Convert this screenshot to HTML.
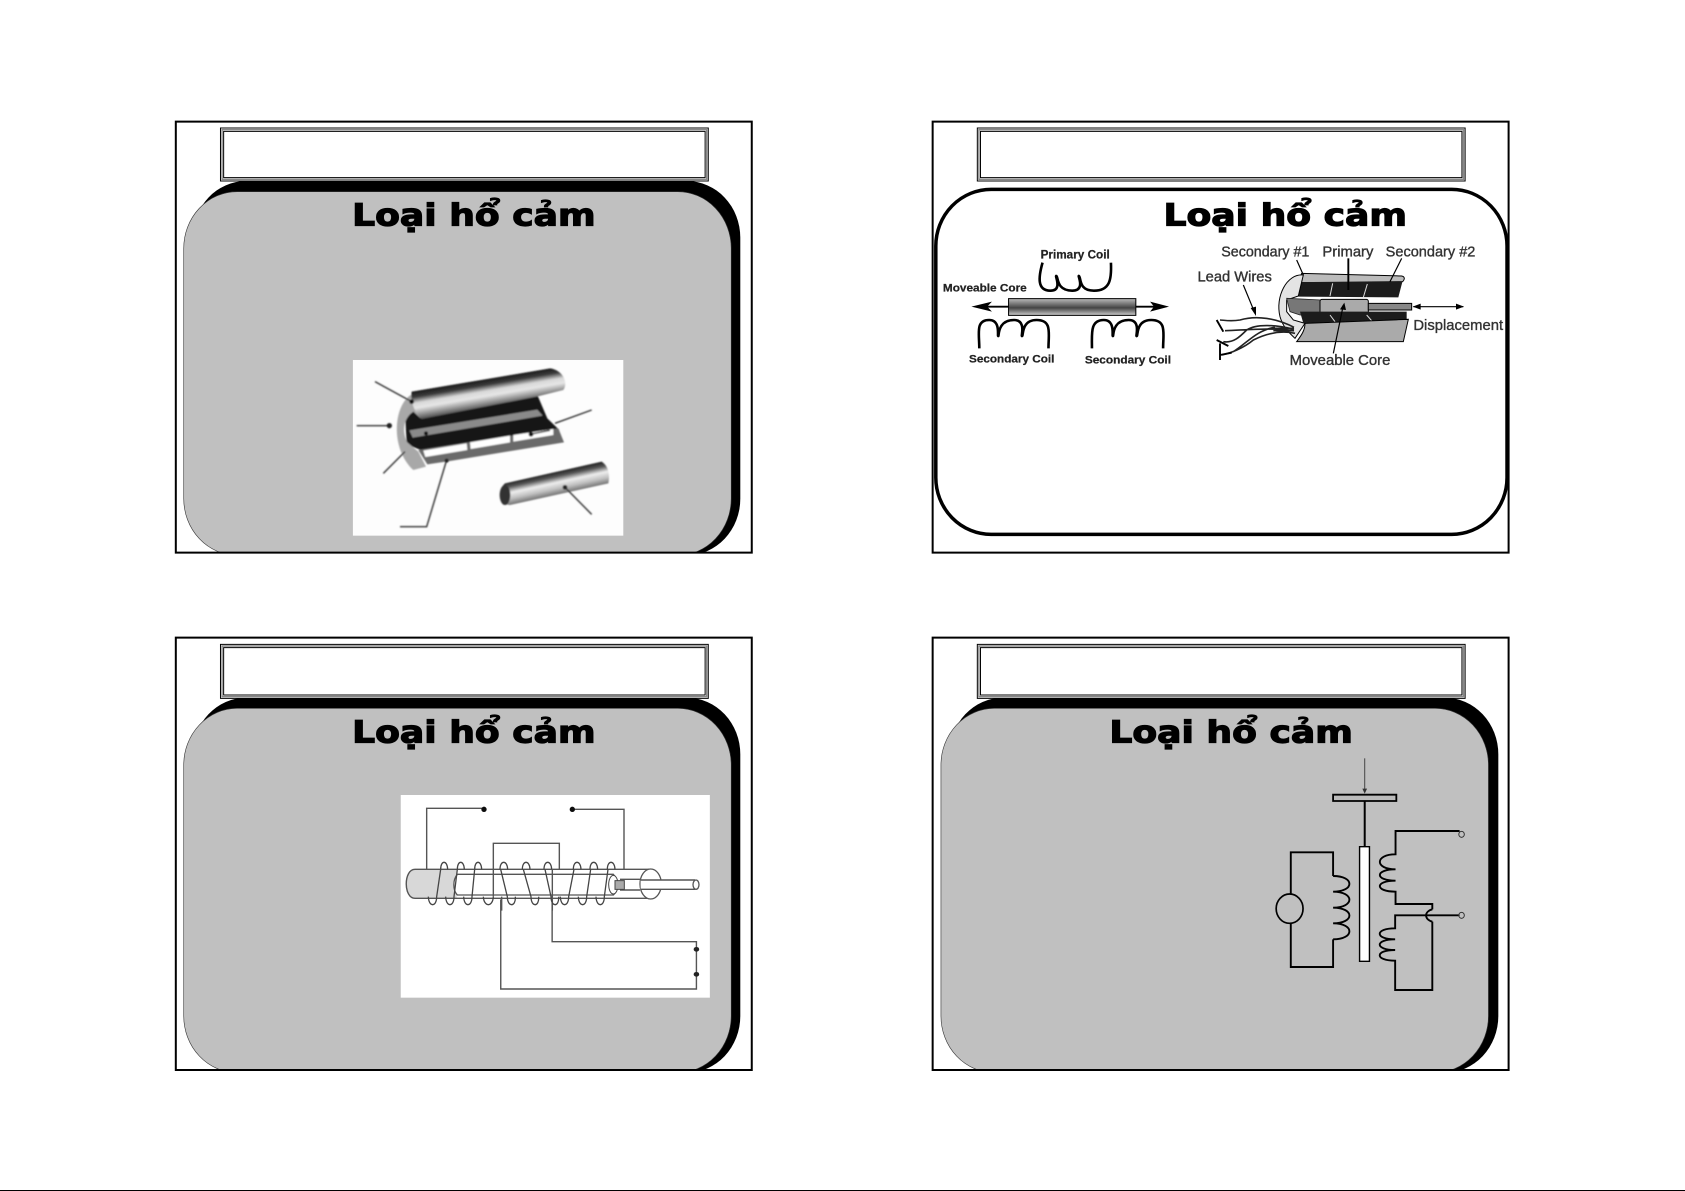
<!DOCTYPE html>
<html lang="vi"><head><meta charset="utf-8"><title>Loại hổ cảm</title>
<style>
html,body{margin:0;padding:0;background:#fff;width:1685px;height:1191px;overflow:hidden}
svg{display:block}
svg *{vector-effect:non-scaling-stroke}
.t{font-family:"DejaVu Sans","Liberation Sans",sans-serif;font-weight:bold;font-size:92px;fill:#000;stroke:#000;stroke-width:1.3px}
.b{font-family:"Liberation Sans",sans-serif;font-weight:bold;fill:#222;stroke:#222;stroke-width:.25px}
.n{font-family:"Liberation Sans",sans-serif;fill:#333;stroke:#333;stroke-width:.4px;font-size:44px}
.l{fill:none;stroke:#000;stroke-width:2px}
.g{fill:none;stroke:#555;stroke-width:1.4px}
.h{fill:none;stroke:#444;stroke-width:1.3px}
.k{fill:none;stroke:#000;stroke-width:1.9px}
.e{stroke:#333;stroke-width:.6px}
</style></head><body>
<svg width="1685" height="1191" viewBox="0 0 1685 1191" xmlns="http://www.w3.org/2000/svg">
<defs>
<linearGradient id="shell" gradientUnits="userSpaceOnUse" x1="400" y1="74" x2="414" y2="156"><stop offset="0" stop-color="#1c1c1c"/><stop offset=".2" stop-color="#3a3a3a"/><stop offset=".42" stop-color="#d8d8d8"/><stop offset=".6" stop-color="#e6e6e6"/><stop offset=".8" stop-color="#a0a0a0"/><stop offset="1" stop-color="#555"/></linearGradient>
<linearGradient id="rod" gradientUnits="userSpaceOnUse" x1="620" y1="350" x2="635" y2="419"><stop offset="0" stop-color="#222"/><stop offset=".2" stop-color="#555"/><stop offset=".45" stop-color="#eee"/><stop offset=".7" stop-color="#c0c0c0"/><stop offset="1" stop-color="#666"/></linearGradient>
<linearGradient id="core" x1="0" y1="0" x2="0" y2="1"><stop offset="0" stop-color="#bbb"/><stop offset=".55" stop-color="#444"/><stop offset="1" stop-color="#ccc"/></linearGradient>
<filter id="soft" x="-5%" y="-5%" width="110%" height="110%"><feGaussianBlur stdDeviation="2.2"/></filter>
<filter id="soft2" x="-5%" y="-5%" width="110%" height="110%"><feGaussianBlur stdDeviation=".8"/></filter>
<clipPath id="c1"><rect x="40" y="65" width="1457" height="1293"/></clipPath>
<clipPath id="c3"><rect x="40" y="53" width="1457" height="1297"/></clipPath>
<clipPath id="c4"><rect x="32" y="53" width="1457" height="1297"/></clipPath>
</defs>

<!-- Slide 1 -->
<g transform="translate(160 100) scale(.3953 .33333)">
<rect x="40" y="65" width="1457" height="1293" fill="#fff"/>
<g clip-path="url(#c1)">
<rect x="83" y="243" width="1385" height="1123" rx="135" ry="170" fill="#000"/>
<rect class="e" x="60" y="275" width="1385" height="1091" rx="135" ry="170" fill="#c0c0c0"/>
</g>
<rect x="40" y="65" width="1457" height="1293" class="l"/>
<rect x="153" y="84" width="1234" height="159" fill="#fff" stroke="#000" stroke-width="1"/>
<rect x="157" y="89" width="1226" height="149" fill="none" stroke="#888" stroke-width="1.4"/>
<rect x="161" y="94" width="1218" height="139" fill="none" stroke="#000" stroke-width="1"/>
<text class="t" x="486" y="377" textLength="616" lengthAdjust="spacingAndGlyphs">Loại hổ cảm</text>
<rect x="488" y="780" width="684" height="527" fill="#fdfdfd"/>
</g>
<g transform="translate(350 355) scale(.33333)">
<g filter="url(#soft)">
<path d="M165 172 L560 115 L592 190 L628 225 L230 292 L170 268Z" fill="#141414"/>
<path d="M178 226 L562 164 L578 182 L188 248Z" fill="#8a8a8a"/>
<path d="M185 118 C130 150 120 280 190 345 L228 335 L205 290 L172 262 C155 230 160 190 190 170 L212 190Z" fill="#a8a8a8"/>
<path d="M185 110 L600 40 C640 45 655 85 640 105 L560 125 L215 192 C195 175 180 140 185 110Z" fill="url(#shell)"/>
<path d="M205 285 L625 220 L642 262 L300 318 L232 328Z" fill="#6a6a6a"/>
<path d="M220 287 L350 265 L352 285 L226 306Z M360 262 L480 242 L480 262 L362 282Z M490 240 L610 222 L610 240 L490 260Z" fill="#fff"/>
<path d="M465 385 L755 320 C770 330 782 350 775 385 L480 450 C450 450 445 400 465 385Z" fill="url(#rod)"/>
<ellipse cx="465" cy="420" rx="16" ry="30" fill="#333"/>
<path d="M75 80 L185 140 M20 212 H115 M100 355 L165 290 M725 165 L615 205 M540 238 L600 226 M150 515 H230 L290 315 M645 397 L725 478" stroke="#333" stroke-width="1.4" fill="none"/>
<circle cx="185" cy="140" r="7" fill="#111"/><circle cx="118" cy="212" r="8" fill="#222"/><circle cx="228" cy="235" r="6" fill="#111"/><circle cx="543" cy="238" r="7" fill="#111"/><circle cx="645" cy="397" r="7" fill="#222"/><circle cx="290" cy="317" r="6" fill="#222"/>
</g>
</g>

<!-- Slide 2 -->
<g transform="translate(920 100) scale(.3953 .33333)">
<rect x="32" y="65" width="1457" height="1293" fill="#fff"/>
<rect x="40" y="268" width="1445" height="1035" rx="140" ry="170" fill="#fff" stroke="#000" stroke-width="3.5"/>
<rect x="32" y="65" width="1457" height="1293" class="l"/>
<rect x="145" y="84" width="1234" height="159" fill="#fff" stroke="#000" stroke-width="1"/>
<rect x="149" y="89" width="1226" height="149" fill="none" stroke="#888" stroke-width="1.4"/>
<rect x="153" y="94" width="1218" height="139" fill="none" stroke="#000" stroke-width="1"/>
<text class="t" x="616" y="377" textLength="616" lengthAdjust="spacingAndGlyphs">Loại hổ cảm</text>
<text class="b" x="305" y="475" font-size="37" textLength="175" lengthAdjust="spacingAndGlyphs">Primary Coil</text>
<text class="b" x="58" y="575" font-size="33" textLength="212" lengthAdjust="spacingAndGlyphs">Moveable Core</text>
<text class="b" x="124" y="788" font-size="33" textLength="216" lengthAdjust="spacingAndGlyphs">Secondary Coil</text>
<text class="b" x="417" y="790" font-size="33" textLength="218" lengthAdjust="spacingAndGlyphs">Secondary Coil</text>
<path class="k" style="stroke-width:2.6px" d="M310 488 C300 530 295 572 330 572 C362 572 340 525 345 528 C350 532 345 572 385 572 C420 572 398 525 402 528 C408 532 400 572 440 572 C480 572 485 540 483 488"/>
<path class="k" style="stroke-width:2.6px" d="M150 745 C150 700 140 660 175 660 C205 660 195 710 198 708 C200 710 195 660 238 660 C270 660 255 710 258 708 C262 710 255 660 295 660 C335 660 325 700 325 745"/>
<path class="k" style="stroke-width:2.6px" d="M435 745 C435 700 430 660 465 660 C495 660 485 710 488 708 C490 710 485 660 528 660 C560 660 545 710 548 708 C552 710 545 660 585 660 C625 660 615 700 615 745"/>
<rect x="224" y="596" width="322" height="50" fill="url(#core)" stroke="#000" stroke-width="1"/>
<path class="k" d="M155 620 H224 M546 620 H610"/>
<path d="M130 620 L182 605 L170 620 L182 635Z M630 620 L582 605 L592 620 L582 635Z" fill="#000"/>
<text class="n" x="762" y="470" textLength="223" lengthAdjust="spacingAndGlyphs">Secondary #1</text>
<text class="n" x="1018" y="470" textLength="129" lengthAdjust="spacingAndGlyphs">Primary</text>
<text class="n" x="1178" y="470" textLength="227" lengthAdjust="spacingAndGlyphs">Secondary #2</text>
<text class="n" x="702" y="545" textLength="188" lengthAdjust="spacingAndGlyphs">Lead Wires</text>
<text class="n" x="1248" y="690" textLength="227" lengthAdjust="spacingAndGlyphs">Displacement</text>
<text class="n" x="935" y="795" textLength="255" lengthAdjust="spacingAndGlyphs">Moveable Core</text>
</g>
<g transform="translate(1190 240) scale(.33333)">
<g filter="url(#soft2)">
<path d="M335 100 L635 108 C645 110 645 118 638 125 L325 128Z" fill="#bbb" stroke="#000" stroke-width="1"/>
<path d="M325 126 H637 L625 172 L325 170Z" fill="#1e1e1e"/>
<path d="M428 130 L420 168 M532 132 L520 172" stroke="#ddd" stroke-width="1" fill="none"/>
<path d="M340 105 C290 100 255 170 270 230 C280 265 300 280 315 295 L345 250 L310 240 L290 215 L290 180 L325 168Z" fill="#e4e4e4" stroke="#000" stroke-width="1"/>
<path d="M290 175 L392 180 V225 H330 L300 215Z" fill="#777" stroke="#222" stroke-width=".8"/>
<rect x="390" y="178" width="145" height="47" rx="6" ry="6" fill="#aaa" stroke="#000" stroke-width="1"/>
<rect x="535" y="190" width="130" height="20" fill="#888" stroke="#000" stroke-width="1"/>
<path d="M330 215 H650 V238 L340 250Z" fill="#1e1e1e"/>
<path d="M420 225 L435 245 M530 225 L545 242" stroke="#ddd" stroke-width="1" fill="none"/>
<path d="M345 250 L655 238 L640 305 L320 305 C335 285 345 270 345 250Z" fill="#aaa" stroke="#000" stroke-width="1"/>
</g>
<path class="k" style="stroke-width:1.2px" d="M320 60 L340 105 M635 55 L600 125 M160 135 L195 220 M460 195 L430 340 M670 200 H820"/>
<path class="k" d="M475 55 V150"/>
<path d="M668 200 L692 191 V209Z M822 200 L798 191 V209Z M198 228 L182 204 L198 200Z M463 188 L450 208 L468 210Z" fill="#000"/>
<path class="k" style="stroke-width:1.6px;stroke:#222" d="M312 262 C260 235 200 225 150 240 C120 245 100 240 90 240 M312 268 C260 255 200 250 170 270 C150 290 130 310 100 305 M312 272 C240 262 170 270 105 272 M315 280 C270 270 230 280 190 300 C160 325 120 340 95 345 M255 262 C200 270 170 310 130 335 M250 265 H312 M250 272 H312"/>
<path class="k" d="M90 310 V360 M90 345 L125 338 M80 300 L115 318 M80 240 L100 275"/>
</g>

<!-- Slide 3 -->
<g transform="translate(160 620) scale(.3953 .33333)">
<rect x="40" y="53" width="1457" height="1297" fill="#fff"/>
<g clip-path="url(#c3)">
<rect x="83" y="233" width="1385" height="1125" rx="135" ry="170" fill="#000"/>
<rect class="e" x="60" y="265" width="1385" height="1093" rx="135" ry="170" fill="#c0c0c0"/>
</g>
<rect x="40" y="53" width="1457" height="1297" class="l"/>
<rect x="153" y="73" width="1234" height="162" fill="#fff" stroke="#000" stroke-width="1"/>
<rect x="157" y="78" width="1226" height="152" fill="none" stroke="#888" stroke-width="1.4"/>
<rect x="161" y="83" width="1218" height="142" fill="none" stroke="#000" stroke-width="1"/>
<text class="t" x="486" y="367" textLength="616" lengthAdjust="spacingAndGlyphs">Loại hổ cảm</text>
<rect x="609" y="525" width="782" height="608" fill="#fff"/>
<path class="g" d="M862 838 V1107 H1357 V965 H992 V830"/>
<circle cx="1357" cy="988" r="7" fill="#222"/><circle cx="1357" cy="1063" r="7" fill="#222"/>
</g>
<g transform="translate(400 780) scale(.33333)">
<g filter="url(#soft2)">
<path d="M45 268 H170 V355 H45 C10 355 10 268 45 268Z" fill="#d8d8d8"/>
<path class="g" d="M45 268 H750 M45 355 H750 M45 268 C10 268 10 355 45 355"/>
<path d="M172 283 H640 C655 300 655 330 640 345 H172 C158 330 158 300 172 283Z" fill="#fff" stroke="#555" stroke-width="1.3"/>
<ellipse cx="752" cy="312" rx="32" ry="45" fill="#fff" stroke="#555" stroke-width="1.3"/>
<path class="g" d="M660 298 H720 M660 330 H720"/>
<path d="M722 300 H885 V328 H722Z" fill="#fff"/>
<path class="g" d="M722 300 H885 M722 328 H885"/>
<ellipse cx="888" cy="314" rx="9" ry="14" fill="#fff" stroke="#555" stroke-width="1.3"/>
<ellipse cx="640" cy="314" rx="14" ry="28" fill="#fff" stroke="#444" stroke-width="1"/>
<rect x="645" y="302" width="28" height="26" fill="#aaa" stroke="#444" stroke-width="1"/>
<path class="g" d="M80 268 V85 H250 M517 88 H672 V268 M280 240 V190 H478 V268 M280 240 V350 M305 350 V392 M457 268 V392"/>
<circle cx="252" cy="88" r="8" fill="#111"/><circle cx="517" cy="88" r="8" fill="#111"/>
<path class="h" d="M122 268 C122 240 142 240 143 268 M122 268 L110 350 C110 382 86 382 85 350
M172 268 C172 240 192 240 193 268 M172 268 L162 350 C162 382 138 382 137 350
M224 268 C224 240 244 240 245 268 M224 268 L216 350 C216 382 192 382 191 350
M280 350 C278 382 252 382 250 350
M300 268 C300 240 322 240 323 268 M302 268 L322 350 C322 382 348 382 346 350
M367 268 C367 240 389 240 390 268 M370 268 L393 350 C393 382 418 382 416 350
M432 268 C432 240 454 240 455 268 M435 268 L453 350 C453 382 478 382 476 350
M520 268 C520 240 542 240 543 268 M522 268 L506 350 C506 382 482 382 481 350
M570 268 C570 240 592 240 593 268 M572 268 L560 350 C560 382 536 382 535 350
M622 268 C622 240 644 240 645 268 M624 268 L613 350 C613 382 589 382 588 350"/>
</g>
</g>

<!-- Slide 4 -->
<g transform="translate(920 620) scale(.3953 .33333)">
<rect x="32" y="53" width="1457" height="1297" fill="#fff"/>
<g clip-path="url(#c4)">
<rect x="75" y="233" width="1388" height="1125" rx="135" ry="170" fill="#000"/>
<rect class="e" x="53" y="265" width="1385" height="1093" rx="135" ry="170" fill="#c0c0c0"/>
</g>
<rect x="32" y="53" width="1457" height="1297" class="l"/>
<rect x="145" y="73" width="1234" height="162" fill="#fff" stroke="#000" stroke-width="1"/>
<rect x="149" y="78" width="1226" height="152" fill="none" stroke="#888" stroke-width="1.4"/>
<rect x="153" y="83" width="1218" height="142" fill="none" stroke="#000" stroke-width="1"/>
<text class="t" x="479" y="367" textLength="616" lengthAdjust="spacingAndGlyphs">Loại hổ cảm</text>
<path d="M1125 415 V510" stroke="#444" stroke-width="1" fill="none"/>
<path d="M1125 521 L1119 506 H1131Z" fill="#333"/>
<rect x="1045" y="524" width="160" height="19" fill="#bbb" stroke="#000" stroke-width="1.8"/>
<path class="k" style="stroke-width:2px" d="M1125 543 V680"/>
<rect x="1112" y="680" width="25" height="344" fill="#fff" stroke="#000" stroke-width="1.4"/>
<path class="k" d="M1045 768 V697 H938 V822 M938 910 V1041 H1045 V958"/>
<ellipse cx="935" cy="866" rx="34" ry="44" fill="none" stroke="#000" stroke-width="1.7"/>
<path class="k" d="M1045 768 C1100 768 1100 815 1045 815 C1100 815 1100 863 1045 863 C1100 863 1100 910 1045 910 C1100 910 1100 958 1045 958"/>
<path class="k" d="M1365 633 H1203 V703 C1150 703 1150 748 1203 748 C1150 748 1150 782 1203 782 C1150 782 1150 815 1203 815 V852 H1296 V868 M1296 905 V1110 H1202 V1022 C1150 1022 1150 990 1202 990 C1150 990 1150 958 1202 958 C1150 958 1150 925 1202 925 V886 H1365 M1296 868 C1275 875 1275 898 1296 905"/>
<ellipse cx="1370" cy="643" rx="7" ry="9" fill="none" stroke="#333" stroke-width="1"/>
<ellipse cx="1370" cy="886" rx="7" ry="9" fill="none" stroke="#333" stroke-width="1"/>
</g>

<rect x="0" y="1190" width="1685" height="1" fill="#000"/>
</svg>
</body></html>
